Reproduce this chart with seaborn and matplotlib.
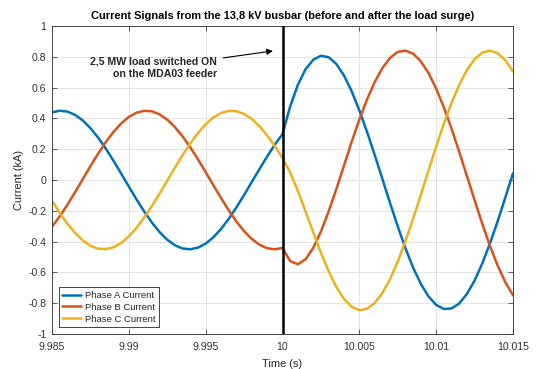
import matplotlib
matplotlib.use("Agg")
import matplotlib.pyplot as plt
import seaborn as sns
import pandas as pd

# ---------------- data ----------------
time_s = [9.985, 9.9855, 9.986, 9.9865, 9.987, 9.9875, 9.988, 9.9885, 9.989, 9.9895,
          9.99, 9.9905, 9.991, 9.9915, 9.992, 9.9925, 9.993, 9.9935, 9.994, 9.9945,
          9.995, 9.9955, 9.996, 9.9965, 9.997, 9.9975, 9.998, 9.9985, 9.999, 9.9995,
          10.0, 10.0005, 10.001, 10.0015, 10.002, 10.0025, 10.003, 10.0035, 10.004, 10.0045,
          10.005, 10.0055, 10.006, 10.0065, 10.007, 10.0075, 10.008, 10.0085, 10.009, 10.0095,
          10.01, 10.0105, 10.011, 10.0115, 10.012, 10.0125, 10.013, 10.0135, 10.014, 10.0145,
          10.015]

phase_a = [0.439, 0.450, 0.444, 0.423, 0.387, 0.337, 0.275, 0.204, 0.125, 0.042,
           -0.043, -0.126, -0.205, -0.276, -0.338, -0.388, -0.424, -0.445, -0.450, -0.439,
           -0.413, -0.372, -0.318, -0.252, -0.178, -0.097, -0.013, 0.071, 0.153, 0.230,
           0.298,
           0.478, 0.618, 0.719, 0.781, 0.807, 0.797, 0.754, 0.679, 0.577, 0.452,
           0.313, 0.163, 0.007, -0.150, -0.301, -0.443, -0.569, -0.674, -0.756, -0.811,
           -0.838, -0.834, -0.802, -0.740, -0.653, -0.542, -0.412, -0.268, -0.114, 0.044]

phase_b = [-0.304, -0.236, -0.161, -0.079, 0.005, 0.090, 0.171, 0.246, 0.312, 0.367,
           0.410, 0.437, 0.449, 0.446, 0.426, 0.392, 0.343, 0.283, 0.212, 0.134,
           0.051, -0.034, -0.117, -0.197, -0.269, -0.332, -0.383, -0.420, -0.443, -0.450,
           -0.441,
           -0.527, -0.547, -0.515, -0.441, -0.335, -0.205, -0.060, 0.093, 0.247, 0.393,
           0.523, 0.636, 0.727, 0.793, 0.832, 0.840, 0.820, 0.771, 0.695, 0.594,
           0.472, 0.334, 0.183, 0.026, -0.131, -0.285, -0.428, -0.555, -0.664, -0.748]

phase_c = [-0.135, -0.213, -0.284, -0.344, -0.392, -0.427, -0.446, -0.449, -0.437, -0.409,
           -0.366, -0.311, -0.244, -0.169, -0.088, -0.004, 0.080, 0.162, 0.238, 0.305,
           0.362, 0.406, 0.435, 0.449, 0.447, 0.429, 0.396, 0.349, 0.290, 0.220,
           0.143,
           0.049, -0.071, -0.204, -0.341, -0.472, -0.592, -0.694, -0.772, -0.823, -0.846,
           -0.836, -0.799, -0.734, -0.643, -0.530, -0.397, -0.251, -0.097, 0.061, 0.217,
           0.366, 0.501, 0.618, 0.714, 0.784, 0.827, 0.840, 0.823, 0.778, 0.704]

series_names = ["Phase A Current", "Phase B Current", "Phase C Current"]
series_colors = ["#0072BD", "#D95319", "#EDB120"]
switch_time = 10.0
x_ticks = [9.985, 9.99, 9.995, 10.0, 10.005, 10.01, 10.015]
x_tick_labels = ["9.985", "9.99", "9.995", "10", "10.005", "10.01", "10.015"]
y_ticks = [-1, -0.8, -0.6, -0.4, -0.2, 0, 0.2, 0.4, 0.6, 0.8, 1]
y_tick_labels = ["-1", "-0.8", "-0.6", "-0.4", "-0.2", "0", "0.2", "0.4", "0.6", "0.8", "1"]
title_text = "Current Signals from the 13,8 kV busbar (before and after the load surge)"
annot_text = "2,5 MW load switched ON\non the MDA03 feeder"

# ---------------- build table ----------------
frames = []
for name, vals in zip(series_names, [phase_a, phase_b, phase_c]):
    frames.append(pd.DataFrame({"Time": time_s, "Current": vals, "Phase": name}))
df = pd.concat(frames, ignore_index=True)

# ---------------- style ----------------
sns.set_theme(style="white")
plt.rcParams["font.family"] = ["Liberation Sans", "DejaVu Sans"]
plt.rcParams["axes.unicode_minus"] = False

fig = plt.figure(figsize=(5.36, 3.69), dpi=100)
ax = fig.add_axes([52 / 536, 1 - 334 / 369, 461 / 536, 308 / 369])

sns.lineplot(data=df, x="Time", y="Current", hue="Phase", hue_order=series_names,
             palette=series_colors, estimator=None, linewidth=1.8, ax=ax, zorder=2)

ax.axvline(switch_time, color="black", linewidth=1.8, zorder=3)

ax.set_xlim(9.985, 10.015)
ax.set_ylim(-1, 1)
ax.set_xticks(x_ticks)
ax.set_xticklabels(x_tick_labels)
ax.set_yticks(y_ticks)
ax.set_yticklabels(y_tick_labels)

ax.grid(True, color="#e3e3e3", linewidth=0.7)
ax.set_axisbelow(True)
for sp in ax.spines.values():
    sp.set_visible(True)
    sp.set_color("#444444")
    sp.set_linewidth(0.7)
ax.tick_params(axis="both", direction="in", length=3.5, width=0.6, color="#444444",
               labelsize=7.6, labelcolor="#333333", top=True, right=True,
               bottom=True, left=True)
ax.tick_params(axis="x", pad=6)
ax.tick_params(axis="y", pad=4)

ax.set_xlabel("Time (s)", fontsize=7.9, color="#262626", labelpad=4.5)
ax.set_ylabel("Current (kA)", fontsize=7.9, color="#262626", labelpad=3)
ax.set_title(title_text, fontsize=7.9, fontweight="bold", color="black", pad=5)

ax.annotate(annot_text, xy=(9.99938, 0.838), xytext=(9.99575, 0.73),
            ha="right", va="center", fontsize=7.6, fontweight="bold",
            multialignment="right", linespacing=1.25,
            arrowprops=dict(arrowstyle="-|>", color="black", lw=0.8,
                            mutation_scale=9, shrinkA=2, shrinkB=0))

leg = ax.legend(loc="lower left", fontsize=6.8, frameon=True, fancybox=False,
                handlelength=2.0, handletextpad=0.4, borderpad=0.4,
                labelspacing=0.3, borderaxespad=0.7)
leg.get_frame().set_edgecolor("#444444")
leg.get_frame().set_linewidth(0.7)
leg.get_frame().set_alpha(1)
for line in leg.get_lines():
    line.set_linewidth(1.8)

fig.savefig("out.png", dpi=100)
